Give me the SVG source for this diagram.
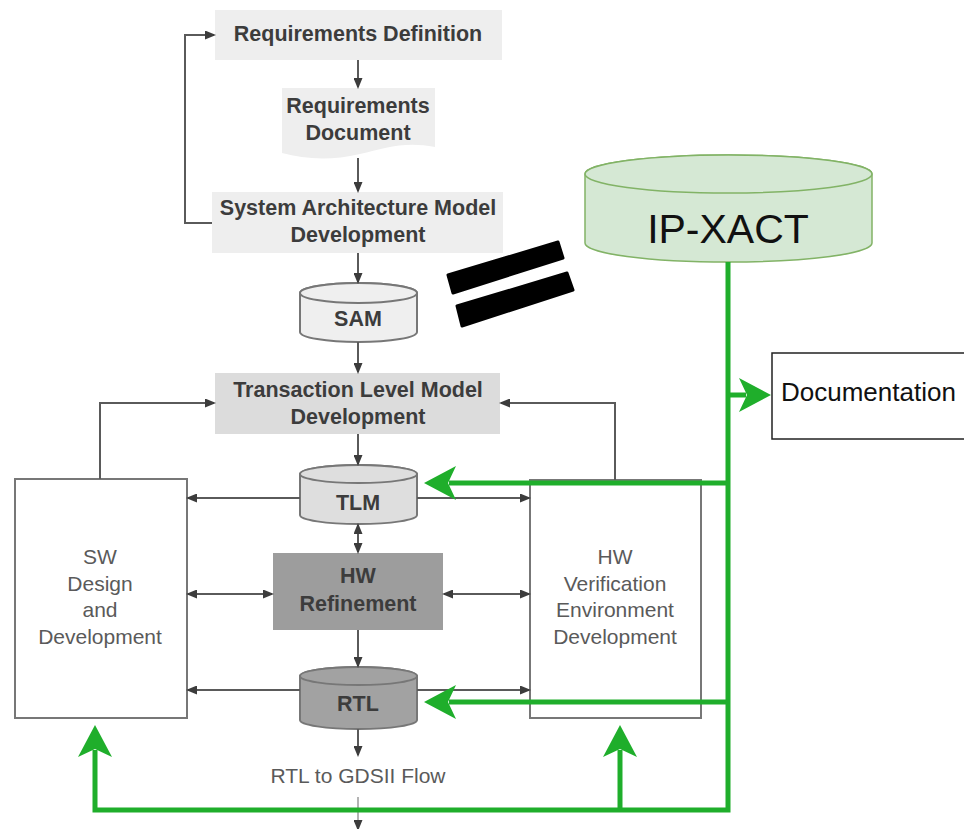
<svg xmlns="http://www.w3.org/2000/svg" width="964" height="829" viewBox="0 0 964 829">
<defs>
<style>
.bold{font-family:"Liberation Sans",Arial,sans-serif;font-weight:bold;font-size:21.5px;fill:#3c3c3c;text-anchor:middle}
.reg{font-family:"Liberation Sans",Arial,sans-serif;font-size:21px;fill:#5a5a5a;text-anchor:middle}
.gline{fill:none;stroke:#5a5a5a;stroke-width:2}
.green{fill:none;stroke:#1fae2b;stroke-width:5}
.cyl{stroke:#777;stroke-width:2}
</style>
<marker id="ga" markerUnits="userSpaceOnUse" viewBox="0 0 11 9" markerWidth="11" markerHeight="9" refX="9" refY="4.5" orient="auto-start-reverse">
<path d="M0,0 L11,4.5 L0,9 Z" fill="#3c3c3c"/>
</marker>
<marker id="gr" markerUnits="userSpaceOnUse" viewBox="0 0 32 34" markerWidth="32" markerHeight="34" refX="7" refY="17" orient="auto">
<path d="M0,0 L32,17 L0,34 L8,17 Z" fill="#1fae2b"/>
</marker>
</defs>
<rect width="964" height="829" fill="#ffffff"/>

<g id="req-def">
<rect x="215" y="10" width="287" height="50" fill="#eeeeee"/>
<text class="bold" x="358" y="41">Requirements Definition</text>
</g>
<g id="req-doc">
<path d="M282,88 H435 V147 C405,141 385,148 360,154 C330,161 305,159 282,153 Z" fill="#eeeeee"/>
<text class="bold" x="358" y="113">Requirements</text>
<text class="bold" x="358" y="140">Document</text>
</g>
<g id="samd">
<rect x="212" y="192" width="291" height="61" fill="#eeeeee"/>
<text class="bold" x="358" y="215">System Architecture Model</text>
<text class="bold" x="358" y="242">Development</text>
</g>
<g id="sam">
<path class="cyl" d="M300,293 V332 A58.5,10 0 0 0 417,332 V293 A58.5,10 0 0 0 300,293 Z" fill="#efefef"/>
<ellipse class="cyl" cx="358.5" cy="293" rx="58.5" ry="10" fill="#efefef"/>
<text class="bold" x="358" y="326">SAM</text>
</g>
<g id="equals">
<polygon points="448,275 558,242 563,258 453,293" fill="#000" stroke="#000" stroke-width="3" stroke-linejoin="round"/>
<polygon points="457,306 567,273 573,290 462,326" fill="#000" stroke="#000" stroke-width="3" stroke-linejoin="round"/>
</g>
<g id="ipxact">
<path d="M585,174 V243 A143.5,19 0 0 0 872,243 V174 A143.5,19 0 0 0 585,174 Z" fill="#d5e8d4" stroke="#82b366" stroke-width="1.5"/>
<ellipse cx="728.5" cy="174" rx="143.5" ry="19" fill="#d5e8d4" stroke="#82b366" stroke-width="1.5"/>
<text x="728" y="243" font-family="Liberation Sans,Arial,sans-serif" font-size="41" fill="#111" text-anchor="middle">IP-XACT</text>
</g>
<g id="documentation">
<rect x="772" y="353" width="200" height="86" fill="#ffffff" stroke="#222" stroke-width="1.5"/>
<text x="781" y="401" font-family="Liberation Sans,Arial,sans-serif" font-size="26" fill="#111">Documentation</text>
</g>
<g id="tlmd">
<rect x="215" y="373" width="285" height="61" fill="#dcdcdc"/>
<text class="bold" x="358" y="397">Transaction Level Model</text>
<text class="bold" x="358" y="424">Development</text>
</g>
<g id="tlm">
<path class="cyl" d="M300,474 V515 A58.5,9 0 0 0 417,515 V474 A58.5,9 0 0 0 300,474 Z" fill="#dedede"/>
<ellipse class="cyl" cx="358.5" cy="474" rx="58.5" ry="9" fill="#dedede"/>
<text class="bold" x="358" y="510">TLM</text>
</g>
<g id="sw">
<rect x="15" y="479" width="172" height="239" fill="#ffffff" stroke="#777" stroke-width="2"/>
<text class="reg" x="100" y="564">SW</text>
<text class="reg" x="100" y="591">Design</text>
<text class="reg" x="100" y="617">and</text>
<text class="reg" x="100" y="644">Development</text>
</g>
<g id="hw">
<rect x="530" y="480" width="171" height="238" fill="#ffffff" stroke="#777" stroke-width="2"/>
<text class="reg" x="615" y="564">HW</text>
<text class="reg" x="615" y="591">Verification</text>
<text class="reg" x="615" y="617">Environment</text>
<text class="reg" x="615" y="644">Development</text>
</g>
<g id="hwr">
<rect x="273" y="553" width="170" height="77" fill="#9d9d9d"/>
<text class="bold" x="358" y="583">HW</text>
<text class="bold" x="358" y="611">Refinement</text>
</g>
<g id="rtl">
<path class="cyl" d="M300,676 V720 A58.5,9 0 0 0 417,720 V676 A58.5,9 0 0 0 300,676 Z" fill="#a2a2a2"/>
<ellipse class="cyl" cx="358.5" cy="676" rx="58.5" ry="9" fill="#a2a2a2"/>
<text class="bold" x="358" y="711">RTL</text>
</g>
<g id="flow">
<text class="reg" x="358" y="783" font-size="20">RTL to GDSII Flow</text>
</g>

<g id="connectors">
<path class="gline" d="M212,223 H185 V35 H214" marker-end="url(#ga)"/>
<path class="gline" d="M358,60 V87" marker-end="url(#ga)"/>
<path class="gline" d="M358,158 V191" marker-end="url(#ga)"/>
<path class="gline" d="M358,253 V282" marker-end="url(#ga)"/>
<path class="gline" d="M358,342 V372" marker-end="url(#ga)"/>
<path class="gline" d="M358,434 V464" marker-end="url(#ga)"/>
<path class="gline" d="M100,479 V403 H214" marker-end="url(#ga)"/>
<path class="gline" d="M615,480 V403 H501" marker-end="url(#ga)"/>
<path class="gline" d="M300,498 H188" marker-end="url(#ga)"/>
<path class="gline" d="M417,498 H529" marker-end="url(#ga)"/>
<path class="gline" d="M358,525 V552" marker-start="url(#ga)" marker-end="url(#ga)"/>
<path class="gline" d="M188,594 H272" marker-start="url(#ga)" marker-end="url(#ga)"/>
<path class="gline" d="M444,594 H529" marker-start="url(#ga)" marker-end="url(#ga)"/>
<path class="gline" d="M358,630 V666" marker-end="url(#ga)"/>
<path class="gline" d="M300,690 H188" marker-end="url(#ga)"/>
<path class="gline" d="M417,690 H529" marker-end="url(#ga)"/>
<path class="gline" d="M358,729 V755" marker-end="url(#ga)"/>
<path d="M358,797 V829" fill="none" stroke="#9a9a9a" stroke-width="1.5" marker-end="url(#ga)"/>

<path class="green" d="M728,262 V810 H95 V750" marker-end="url(#gr)"/>
<path class="green" d="M620,810 V750" marker-end="url(#gr)"/>
<path class="green" d="M728,395 H746" marker-end="url(#gr)"/>
<path class="green" d="M728,483 H449" marker-end="url(#gr)"/>
<path class="green" d="M728,702 H449" marker-end="url(#gr)"/>
</g>
</svg>
